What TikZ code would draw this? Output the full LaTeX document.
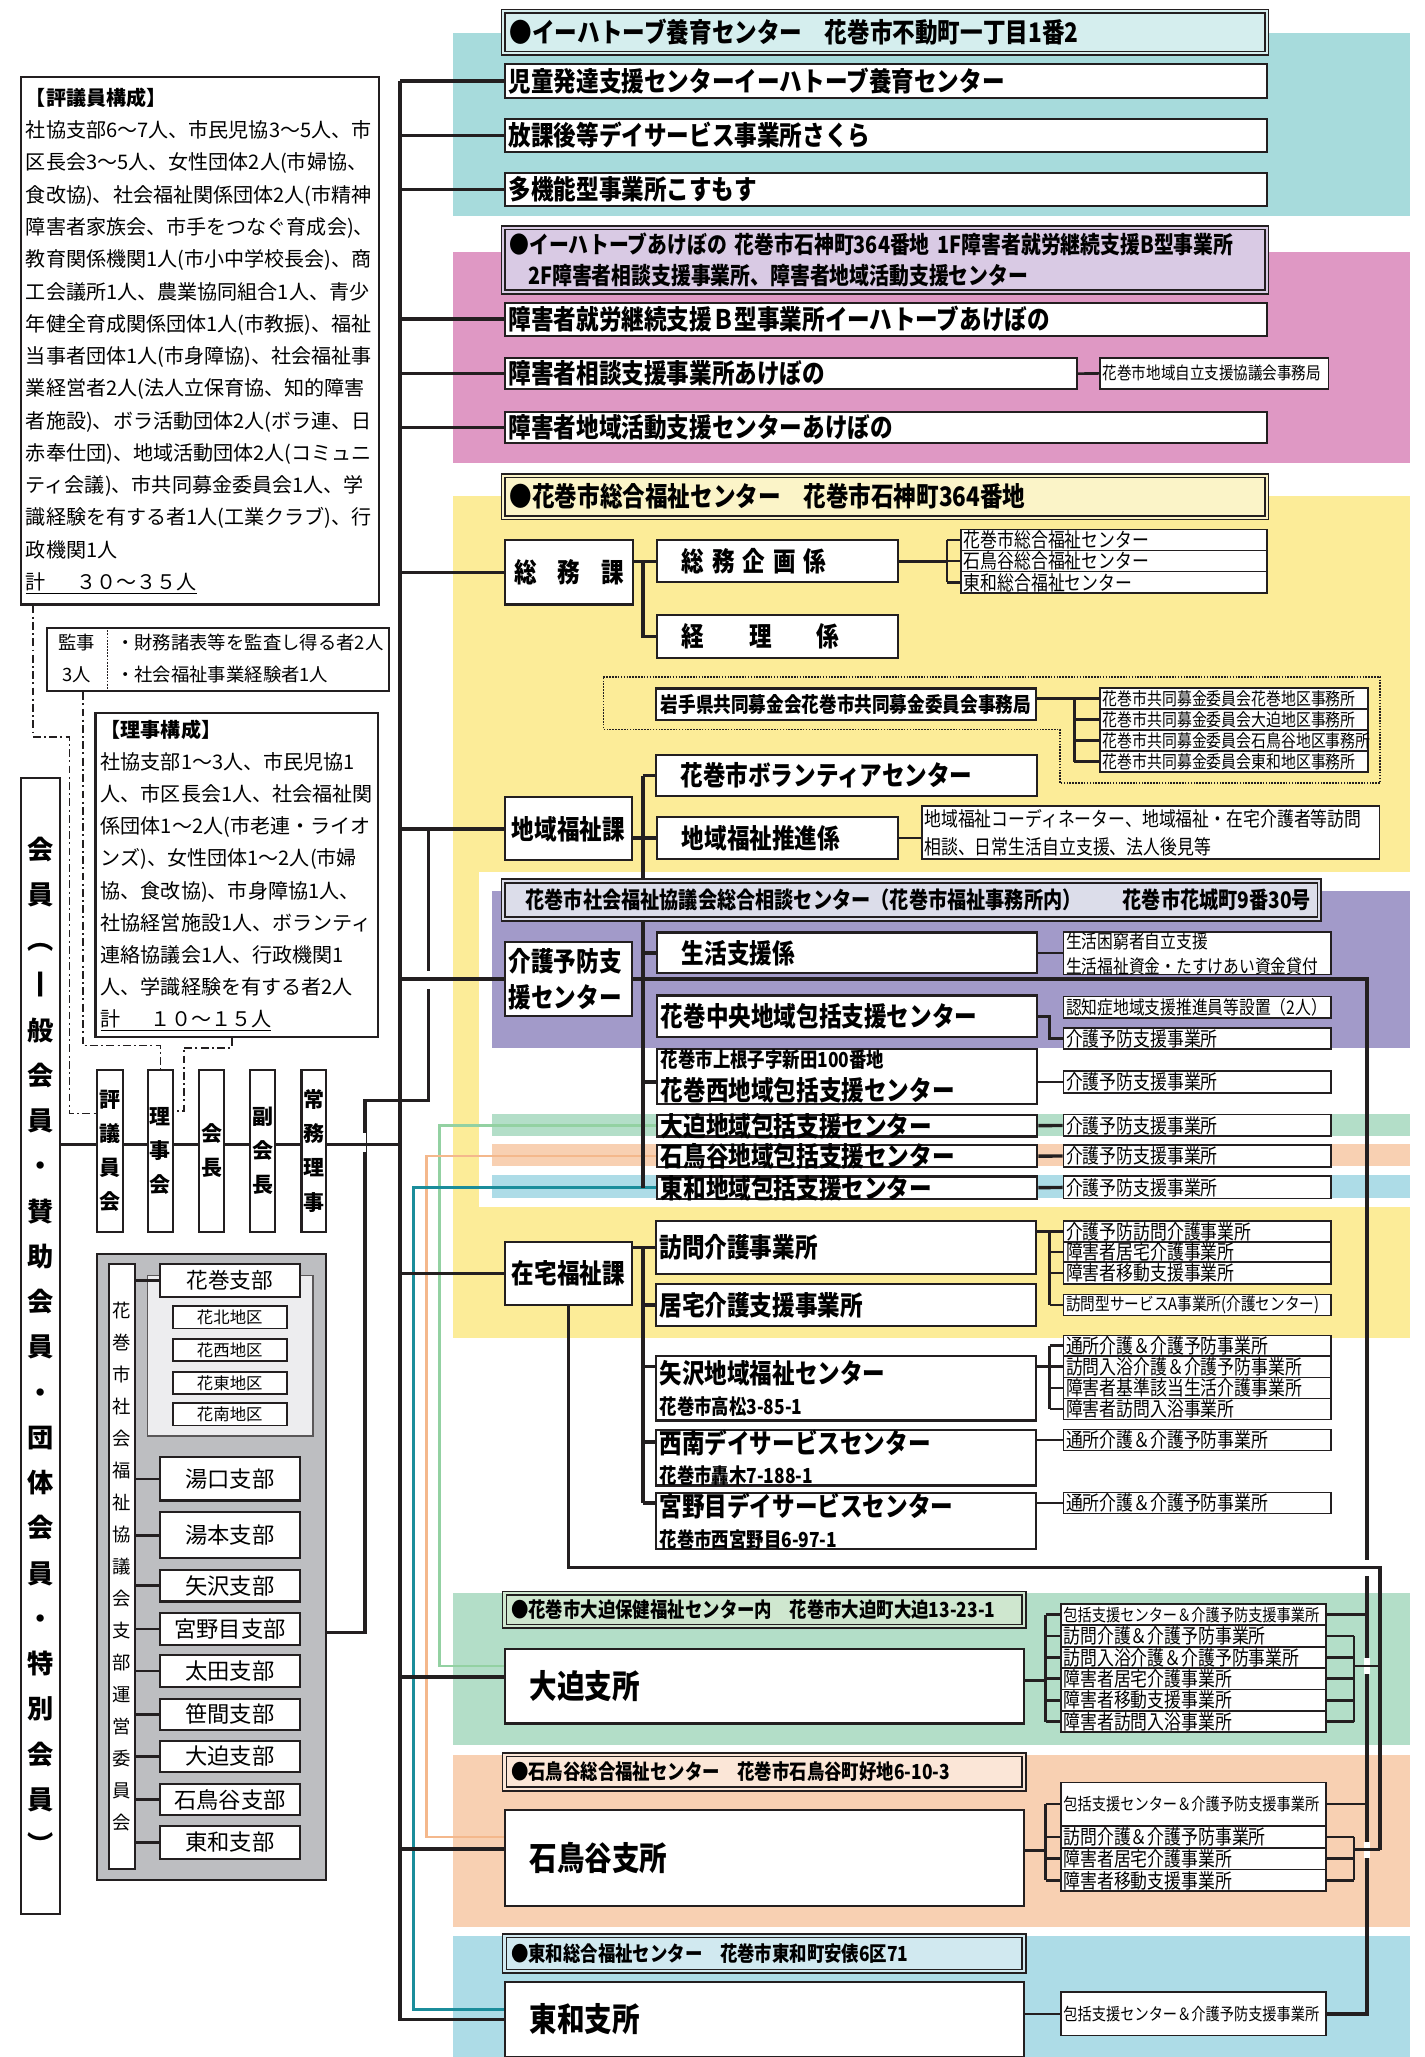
\documentclass[tikz,border=0pt]{standalone}
\usepackage{fontspec}
\setmainfont{Noto Sans CJK JP}
\newfontfamily\cond{Noto Sans CJK JP}[FakeStretch=0.84]

\definecolor{ink}{HTML}{231F20}
\definecolor{bandTeal}{HTML}{A7DBDC}
\definecolor{hdTeal}{HTML}{D5EEEE}
\definecolor{bandPink}{HTML}{DF98C4}
\definecolor{hdPink}{HTML}{D9CAE4}
\definecolor{bandYel}{HTML}{FCEC98}
\definecolor{hdYel}{HTML}{FBF4C8}
\definecolor{bandPur}{HTML}{A29AC9}
\definecolor{hdPur}{HTML}{DCDDEA}
\definecolor{bandGrn}{HTML}{B3DEC8}
\definecolor{hdGrn}{HTML}{CFE7CF}
\definecolor{bandOra}{HTML}{F8D0B2}
\definecolor{hdOra}{HTML}{FBE6D7}
\definecolor{bandBlu}{HTML}{ADDCE7}
\definecolor{hdBlu}{HTML}{D1E9F0}
\definecolor{lnGrn}{HTML}{93D1A2}
\definecolor{lnOra}{HTML}{F4B88C}
\definecolor{lnTea}{HTML}{1B8D9B}
\definecolor{shibuGray}{HTML}{BDBEC1}
\definecolor{shibuLight}{HTML}{EDEDEF}

\newcommand\fsz[1]{\fontsize{#1}{#1}\selectfont}
\newcommand\fH{\cond\bfseries\fsz{20.5}}
\newcommand\fS{\cond\fsz{15.3}}
\newcommand\fA{\cond\bfseries\fsz{15.8}}

\tikzset{
  box/.style={draw=ink, line width=1.6pt, fill=white, inner sep=0pt, anchor=north west},
  lbox/.style={box, align=left, inner xsep=3pt, font=\fH},
  widebox/.style={lbox, minimum width=581pt, text width=575pt},
  midbox/.style={lbox, minimum width=290pt, text width=284pt},
  sect/.style={box, minimum width=97pt, minimum height=48pt, font=\fH},
  sbox/.style={box, line width=1.3pt, align=left, inner xsep=2pt, font=\fS, minimum width=204pt, text width=200pt},
  hdr/.style={draw=ink, line width=1.2pt, double distance=1.6pt, anchor=north west, inner xsep=5pt, inner ysep=0pt, align=left},
  vbox/.style={box, align=center, minimum width=20pt, minimum height=123pt, font=\bfseries\fontsize{16}{26}\selectfont},
  shibubox/.style={box, minimum width=107pt, font=\fsz{17}},
  chiku/.style={box, line width=1.3pt, minimum width=87pt, minimum height=17pt, font=\fsz{12.5}},
  conn/.style={draw=ink, line width=2.6pt},
  link/.style={draw=ink, line width=2pt},
  dd/.style={draw=ink, line width=1.3pt, dash pattern=on 6pt off 2.5pt on 1.5pt off 2.5pt},
  gap/.style={draw=white, line width=5pt}
}

\begin{document}
\begin{tikzpicture}[x=1pt,y=-1pt]
\useasboundingbox (0,0) rectangle (1086,1568);

% colour bands
\fill[bandTeal] (345,25) rectangle (1075,165);
\fill[bandPink] (345,192) rectangle (1075,353);
\fill[bandYel] (345,378) rectangle (1075,1020);
\fill[white] (365,665) rectangle (1075,920);
\fill[bandPur] (375,679) rectangle (1075,799);
\fill[bandGrn] (375,849) rectangle (1075,866);
\fill[bandOra] (375,872) rectangle (1075,889);
\fill[bandBlu] (375,896) rectangle (1075,913);
\fill[bandGrn] (345,1214) rectangle (1075,1330);
\fill[bandOra] (345,1338) rectangle (1075,1469);
\fill[bandBlu] (345,1476) rectangle (1075,1568);
\draw[ink, line width=1.2pt, densely dotted] (460,516) -- (1052,516) -- (1052,597) -- (808,597) -- (808,556) -- (460,556) -- cycle;

% ---- left: members and board
\node[box, align=left, inner xsep=4pt, text width=265pt, minimum width=273pt, minimum height=402pt, font=\fontsize{15.3}{24.6}\selectfont] (hyogi) at (15,58) {{\bfseries 【評議員構成】}\\社協支部6～7人、市民児協3～5人、市\\区長会3～5人、女性団体2人(市婦協、\\食改協)、社会福祉関係団体2人(市精神\\障害者家族会、市手をつなぐ育成会)、\\教育関係機関1人(市小中学校長会)、商\\工会議所1人、農業協同組合1人、青少\\年健全育成関係団体1人(市教振)、福祉\\当事者団体1人(市身障協)、社会福祉事\\業経営者2人(法人立保育協、知的障害\\者施設)、ボラ活動団体2人(ボラ連、日\\赤奉仕団)、地域活動団体2人(コミュニ\\ティ会議)、市共同募金委員会1人、学\\識経験を有する者1人(工業クラブ)、行\\政機関1人\\\underline{計\hspace{1.5em}３０～３５人}};
\node[box, minimum width=261pt, minimum height=48pt] (kanji) at (35,478) {};
\node[align=center, font=\fontsize{14}{24}\selectfont] (kanjiL) at (58.5,502) {監事\\3人};
\node[align=left, anchor=west, font=\fontsize{14}{24}\selectfont] (kanjiR) at (85,502) {・財務諸表等を監査し得る者2人\\・社会福祉事業経験者1人};
\draw[ink, line width=1.4pt, densely dotted] ([xshift=47pt]kanji.north west) -- ([xshift=47pt]kanji.south west);
\node[box, align=left, inner xsep=4pt, text width=207pt, minimum width=215pt, minimum height=247pt, font=\fontsize{15.3}{24.5}\selectfont] (riji) at (72,543) {{\bfseries 【理事構成】}\\社協支部1～3人、市民児協1\\人、市区長会1人、社会福祉関\\係団体1～2人(市老連・ライオ\\ンズ)、女性団体1～2人(市婦\\協、食改協)、市身障協1人、\\社協経営施設1人、ボランティ\\連絡協議会1人、行政機関1\\人、学識経験を有する者2人\\\underline{計\hspace{1.5em}１０～１５人}};

\node[box, align=center, minimum width=30pt, minimum height=866pt, font=\bfseries\fontsize{20}{34.5}\selectfont] (kaiin) at (15,592) {会\\員\\︵\\丨\\般\\会\\員\\・\\賛\\助\\会\\員\\・\\団\\体\\会\\員\\・\\特\\別\\会\\員\\︶};
\node[vbox] (hyo) at (73,815) {評\\議\\員\\会};
\node[vbox, minimum width=19pt] (rijikai) at (112,815) {理\\事\\会};
\node[vbox, minimum width=19pt] (kaicho) at (151,815) {会\\長};
\node[vbox, minimum width=19pt] (fukukai) at (190,815) {副\\会\\長};
\node[vbox, minimum width=19pt] (jomu) at (229,815) {常\\務\\理\\事};

% ---- left: branches
\node[box, fill=shibuGray, minimum width=175pt, minimum height=477pt] (shibu) at (73,955) {};
\node[box, fill=shibuLight, draw=ink!75, line width=1pt, minimum width=126pt, minimum height=122pt] (hanaG) at (112,972) {};
\node[box, align=center, minimum width=20pt, minimum height=461pt, font=\fontsize{14}{24.4}\selectfont] (label) at (82,963) {花\\巻\\市\\社\\会\\福\\祉\\協\\議\\会\\支\\部\\運\\営\\委\\員\\会};
\node[shibubox, minimum height=25pt, font=\fsz{16.5}] (hanamaki) at (121,963) {花巻支部};
\node[chiku] (kahoku) at (131,995) {花北地区};
\node[chiku] (kasei) at (131,1020) {花西地区};
\node[chiku] (katou) at (131,1045) {花東地区};
\node[chiku] (kanan) at (131,1069) {花南地区};
\node[shibubox, minimum height=33pt] (yuguchi) at (121,1110) {湯口支部};
\node[shibubox, minimum height=35pt] (yumoto) at (121,1152) {湯本支部};
\node[shibubox, minimum height=24pt] (yazawaS) at (121,1196) {矢沢支部};
\node[shibubox, minimum height=24pt] (miyanomeS) at (121,1229) {宮野目支部};
\node[shibubox, minimum height=24pt] (ota) at (121,1261) {太田支部};
\node[shibubox, minimum height=24pt] (sasama) at (121,1294) {笹間支部};
\node[shibubox, minimum height=24pt] (oohasamaS) at (121,1326) {大迫支部};
\node[shibubox, minimum height=24pt] (ishidoriS) at (121,1359) {石鳥谷支部};
\node[shibubox, minimum height=25pt] (towaS) at (121,1391) {東和支部};

% ---- イーハトーブ養育センター
\node[hdr, fill=hdTeal, double=hdTeal, minimum width=582pt, minimum height=32pt, text width=572pt, font=\fH] (yoiku) at (383,8) {●イーハトーブ養育センター　花巻市不動町一丁目1番2};
\node[widebox, minimum height=26pt] (jido) at (384,48) {児童発達支援センターイーハトーブ養育センター};
\node[widebox, minimum height=25pt] (sakura) at (384,90) {放課後等デイサービス事業所さくら};
\node[widebox, minimum height=25pt] (kosumosu) at (384,131) {多機能型事業所こすもす};

% ---- イーハトーブあけぼの
\node[hdr, fill=hdPink, double=hdPink, minimum width=582pt, minimum height=49pt, text width=572pt, font=\cond\bfseries\fontsize{18}{23}\selectfont] (akebono) at (383,173) {●イーハトーブあけぼの 花巻市石神町364番地 1F障害者就労継続支援B型事業所\\\hspace*{14pt}2F障害者相談支援事業所、障害者地域活動支援センター};
\node[widebox, minimum height=25pt] (shuro) at (384,230) {障害者就労継続支援Ｂ型事業所イーハトーブあけぼの};
\node[lbox, minimum width=436pt, text width=430pt, minimum height=24pt] (sodan) at (384,272) {障害者相談支援事業所あけぼの};
\node[sbox, minimum width=174pt, text width=170pt, minimum height=24pt, font=\cond\fsz{13.2}] (jiritsu) at (838,272) {花巻市地域自立支援協議会事務局};
\node[widebox, minimum height=24pt] (katsudo) at (384,313) {障害者地域活動支援センターあけぼの};

% ---- 総合福祉センター
\node[hdr, fill=hdYel, double=hdYel, minimum width=582pt, minimum height=32pt, text width=572pt, font=\fH] (sogo) at (383,362) {●花巻市総合福祉センター　花巻市石神町364番地};
\node[box, minimum width=98pt, minimum height=49pt, font=\fH] (somu) at (384,411) {総\hspace{16pt}務\hspace{16pt}課};
\node[lbox, minimum width=184pt, text width=178pt, minimum height=32pt] (kikaku) at (500,411) {\hspace*{16pt}総\hspace{6pt}務\hspace{6pt}企\hspace{6pt}画\hspace{6pt}係};
\node[lbox, minimum width=184pt, text width=178pt, minimum height=33pt] (keiri) at (500,468) {\hspace*{16pt}経\hspace{34pt}理\hspace{34pt}係};
\node[sbox, minimum width=233pt, text width=229pt, minimum height=16pt] (fukuA) at (732,403) {花巻市総合福祉センター};
\node[sbox, minimum width=233pt, text width=229pt, minimum height=16pt] (fukuB) at (732,419) {石鳥谷総合福祉センター};
\node[sbox, minimum width=233pt, text width=229pt, minimum height=16.6pt] (fukuC) at (732,435) {東和総合福祉センター};
\node[box, minimum width=290pt, minimum height=24pt, font=\cond\bfseries\fsz{16}] (jimu) at (499,524) {岩手県共同募金会花巻市共同募金委員会事務局};
\node[sbox, minimum height=16pt, font=\cond\fsz{13.5}] (kyodoA) at (838,524) {花巻市共同募金委員会花巻地区事務所};
\node[sbox, minimum height=16pt, font=\cond\fsz{13.5}] (kyodoB) at (838,540) {花巻市共同募金委員会大迫地区事務所};
\node[sbox, minimum height=16pt, font=\cond\fsz{13.5}] (kyodoC) at (838,556) {花巻市共同募金委員会石鳥谷地区事務所};
\node[sbox, minimum height=16pt, font=\cond\fsz{13.5}] (kyodoD) at (838,572) {花巻市共同募金委員会東和地区事務所};
\node[lbox, minimum width=291pt, text width=285pt, minimum height=31pt] (volun) at (499,575) {\hspace*{16pt}花巻市ボランティアセンター};
\node[sect] (chiiki) at (384,607) {地域福祉課};
\node[lbox, minimum width=184pt, text width=178pt, minimum height=32pt] (suishin) at (500,622) {\hspace*{16pt}地域福祉推進係};
\node[sbox, minimum width=349pt, text width=345pt, minimum height=40pt, font=\cond\fontsize{15.3}{21}\selectfont] (suishinD) at (702,614) {地域福祉コーディネーター、地域福祉・在宅介護者等訪問\\相談、日常生活自立支援、法人後見等};

% ---- 総合相談センター
\node[hdr, fill=hdPur, double=hdPur, minimum width=622pt, minimum height=29pt, text width=612pt, font=\cond\bfseries\fsz{17.4}] (sodanC) at (383,671) {\hspace*{12pt}花巻市社会福祉協議会総合相談センター（花巻市福祉事務所内）\hspace{1.8em}花巻市花城町9番30号};
\node[lbox, minimum width=97pt, text width=91pt, minimum height=57pt, font=\cond\bfseries\fontsize{20.5}{27}\selectfont] (yobou) at (384,717) {介護予防支\\援センター};
\node[midbox, minimum height=31pt] (seikatsu) at (500,710) {\hspace*{16pt}生活支援係};
\node[sbox, minimum height=31pt, font=\cond\fontsize{14.3}{19}\selectfont] (seikatsuD) at (810,710) {生活困窮者自立支援\\生活福祉資金・たすけあい資金貸付};
\node[midbox, minimum height=32pt] (chuo) at (500,758) {花巻中央地域包括支援センター};
\node[sbox, minimum height=16.5pt, font=\cond\fsz{14.3}] (ninchi) at (810,759) {認知症地域支援推進員等設置（2人）};
\node[sbox, minimum height=16pt] (chuoY) at (810,783) {介護予防支援事業所};
\node[midbox, minimum height=42pt, font=\cond\bfseries\fontsize{20.5}{25}\selectfont] (nishi) at (500,799) {{\fA 花巻市上根子字新田100番地}\\花巻西地域包括支援センター};
\node[sbox, minimum height=16.5pt] (nishiY) at (810,816) {介護予防支援事業所};
\node[midbox, minimum height=16.5pt, text height=16pt, text depth=0pt] (oohasamaH) at (500,849) {大迫地域包括支援センター};
\node[sbox, minimum height=16.5pt] (oohasamaY) at (810,849) {介護予防支援事業所};
\node[midbox, minimum height=17pt, text height=16pt, text depth=0pt] (ishidoriH) at (500,872) {石鳥谷地域包括支援センター};
\node[sbox, minimum height=17pt] (ishidoriY) at (810,872) {介護予防支援事業所};
\node[midbox, minimum height=17pt, text height=16pt, text depth=0pt] (towaH) at (500,896) {東和地域包括支援センター};
\node[sbox, minimum height=17pt] (towaY) at (810,896) {介護予防支援事業所};

% ---- 在宅福祉課
\node[sect] (zaitaku) at (384,946) {在宅福祉課};
\node[midbox, minimum height=40pt] (houmon) at (499,930) {訪問介護事業所};
\node[midbox, minimum height=32pt] (kyotaku) at (499,978) {居宅介護支援事業所};
\node[sbox, minimum height=16pt] (hmA) at (810,930) {介護予防訪問介護事業所};
\node[sbox, minimum height=15.5pt] (hmB) at (810,946) {障害者居宅介護事業所};
\node[sbox, minimum height=16.5pt] (hmC) at (810,961.5) {障害者移動支援事業所};
\node[sbox, minimum height=16pt, font=\cond\fsz{13.3}] (hmD) at (810,986) {訪問型サービスA事業所(介護センター)};
\node[midbox, minimum height=49pt, font=\cond\bfseries\fontsize{20.5}{23}\selectfont] (yazawa) at (499,1033) {矢沢地域福祉センター\\{\fA 花巻市高松3-85-1}};
\node[sbox, minimum height=15.5pt] (yaA) at (810,1017.3) {通所介護＆介護予防事業所};
\node[sbox, minimum height=16.5pt] (yaB) at (810,1032.8) {訪問入浴介護＆介護予防事業所};
\node[sbox, minimum height=16pt] (yaC) at (810,1049.3) {障害者基準該当生活介護事業所};
\node[sbox, minimum height=16pt] (yaD) at (810,1065.3) {障害者訪問入浴事業所};
\node[midbox, minimum height=40pt, font=\cond\bfseries\fontsize{20.5}{23}\selectfont] (seinan) at (499,1089) {西南デイサービスセンター\\{\fA 花巻市轟木7-188-1}};
\node[sbox, minimum height=16pt] (seinanY) at (810,1089) {通所介護＆介護予防事業所};
\node[midbox, minimum height=43pt, font=\cond\bfseries\fontsize{20.5}{23.5}\selectfont] (miyanome) at (499,1137) {宮野目デイサービスセンター\\{\fA 花巻市西宮野目6-97-1}};
\node[sbox, minimum height=16pt] (miyanomeY) at (810,1137) {通所介護＆介護予防事業所};

% ---- 支所
\node[hdr, fill=hdGrn, double=hdGrn, minimum width=396pt, minimum height=25pt, text width=386pt, font=\fA] (ooH) at (384,1214) {●花巻市大迫保健福祉センター内　花巻市大迫町大迫13-23-1};
\node[lbox, minimum width=396pt, text width=390pt, minimum height=57pt, font=\cond\bfseries\fsz{25}] (oosho) at (384,1256) {\hspace*{16pt}大迫支所};
\node[sbox, minimum width=202pt, text width=198pt, minimum height=16.3pt, font=\cond\fsz{12.9}] (ooA) at (808,1222) {包括支援センター＆介護予防支援事業所};
\node[sbox, minimum width=202pt, text width=198pt, minimum height=16.3pt] (ooB) at (808,1238.3) {訪問介護＆介護予防事業所};
\node[sbox, minimum width=202pt, text width=198pt, minimum height=16.3pt] (ooC) at (808,1254.6) {訪問入浴介護＆介護予防事業所};
\node[sbox, minimum width=202pt, text width=198pt, minimum height=16.3pt] (ooD) at (808,1270.9) {障害者居宅介護事業所};
\node[sbox, minimum width=202pt, text width=198pt, minimum height=16.3pt] (ooE) at (808,1287.2) {障害者移動支援事業所};
\node[sbox, minimum width=202pt, text width=198pt, minimum height=16.3pt] (ooF) at (808,1303.5) {障害者訪問入浴事業所};

\node[hdr, fill=hdOra, double=hdOra, minimum width=396pt, minimum height=26pt, text width=386pt, font=\fA] (isH) at (384,1337) {●石鳥谷総合福祉センター　花巻市石鳥谷町好地6-10-3};
\node[lbox, minimum width=396pt, text width=390pt, minimum height=73pt, font=\cond\bfseries\fsz{25}] (issho) at (384,1379) {\hspace*{16pt}石鳥谷支所};
\node[sbox, minimum width=202pt, text width=198pt, minimum height=33pt, font=\cond\fsz{12.9}] (isA) at (808,1358) {包括支援センター＆介護予防支援事業所};
\node[sbox, minimum width=202pt, text width=198pt, minimum height=17pt] (isB) at (808,1391) {訪問介護＆介護予防事業所};
\node[sbox, minimum width=202pt, text width=198pt, minimum height=16.5pt] (isC) at (808,1408) {障害者居宅介護事業所};
\node[sbox, minimum width=202pt, text width=198pt, minimum height=16.5pt] (isD) at (808,1424.5) {障害者移動支援事業所};

\node[hdr, fill=hdBlu, double=hdBlu, minimum width=396pt, minimum height=27pt, text width=386pt, font=\fA] (twH) at (384,1475) {●東和総合福祉センター　花巻市東和町安俵6区71};
\node[lbox, minimum width=396pt, text width=390pt, minimum height=57pt, font=\cond\bfseries\fsz{25}] (twsho) at (384,1510) {\hspace*{16pt}東和支所};
\node[sbox, minimum width=202pt, text width=198pt, minimum height=33pt, font=\cond\fsz{12.9}] (twA) at (808,1518) {包括支援センター＆介護予防支援事業所};

% ---- named guide points
\coordinate (tk) at (305,0);
\coordinate (sx) at (490,0);
\coordinate (fb) at (722,0);
\coordinate (kb) at (819,0);
\coordinate (hb) at (800,0);
\coordinate (lb) at (797,0);
\coordinate (ob) at (1032,0);
\coordinate (rb) at (1042,0);
\coordinate (gx) at (335,0);
\coordinate (px) at (325,0);
\coordinate (tx) at (315,0);
\coordinate (zt) at (1052,1195);
\coordinate (ooJ) at (1052,1270);
\coordinate (isJ) at (1052,1410);

% coloured feeds to the branch offices
\draw[lnGrn, line width=2pt] (oohasamaH.west) -- (oohasamaH.west -| gx) |- ([yshift=15.5pt]oosho.west);
\draw[lnOra, line width=2pt] (ishidoriH.west) -- (ishidoriH.west -| px) |- ([yshift=16pt]issho.west);
\draw[lnTea, line width=2pt] (towaH.west) -- (towaH.west -| tx) |- ([yshift=7.5pt]twsho.west);

% branch committees to 地域福祉課
\draw[conn] ([yshift=-50pt]shibu.east) -- ++(28.5,0) -- ++(0,-405.5) -- ++(48.5,0) |- (chiiki.west);
\draw[gap] (276.5,864) -- ++(0,14);
\draw[gap] (325,740) -- ++(0,14);

% trunk
\draw[conn] (jido.west -| tk) |- (twsho.west);
\foreach \n in {jido,sakura,kosumosu,shuro,sodan,katsudo,somu,chiiki,yobou,zaitaku}
  \draw[conn] (\n.west -| tk) -- (\n.west);
\draw[conn] ([yshift=7pt]oosho.west -| tk) -- ([yshift=7pt]oosho.west);
\draw[conn] ([yshift=7pt]issho.west -| tk) -- ([yshift=7pt]issho.west);

% members line
\draw[conn] ([yshift=5pt]hyo.west -| kaiin.east) -- ([yshift=5pt]hyo.west);
\foreach \a/\b in {hyo/rijikai,rijikai/kaicho,kaicho/fukukai,fukukai/jomu}
  \draw[conn] ([yshift=5pt]\a.east) -- ([yshift=5pt]\b.west);
\draw[conn] ([yshift=5pt]jomu.east) -- ([yshift=5pt]jomu.east -| tk);

% audit links
\draw[dd] ([xshift=10pt]hyogi.south west) -- ++(0,100) -- ++(28,0) |- ([yshift=28.5pt]hyo.west);
\draw[dd] ([xshift=28pt]kanji.south west) |- ([yshift=18pt]rijikai.north) -- (rijikai.north);
\draw[dd] ([xshift=105pt]riji.south west) -- ++(0,7) -- ++(-37,0) |- ([yshift=30.5pt]rijikai.east);

% branch boxes
\foreach \n in {hanamaki,yuguchi,yumoto,yazawaS,miyanomeS,ota,sasama,oohasamaS,ishidoriS,towaS}
  \draw[link] (\n.west -| label.east) -- (\n.west);

% あけぼの
\draw[link] (sodan.east) -- (jiritsu.west);

% 総務課
\draw[conn] (kikaku.west -| somu.east) -- (kikaku.west);
\draw[conn] (kikaku.west -| sx) |- (keiri.west);
\draw[link] (kikaku.east) -- (kikaku.east -| fb);
\draw[link] (fukuA.west -| fb) -- (fukuC.west -| fb);
\foreach \n in {fukuA,fukuB,fukuC}
  \draw[link] (\n.west -| fb) -- (\n.west);
\draw[link] (kyodoA.west -| jimu.east) -- (kyodoA.west -| kb);
\draw[link] (kyodoA.west -| kb) -- (kyodoD.west -| kb);
\foreach \n in {kyodoA,kyodoB,kyodoC,kyodoD}
  \draw[link] (\n.west -| kb) -- (\n.west);

% 地域福祉課 (the line passes behind the 相談センター header)
\draw[conn] (volun.west -| sx) -- (sodanC.north -| sx);
\draw[conn] (sodanC.south -| sx) -- (towaH.west -| sx);
\draw[conn] (volun.west -| sx) -- (volun.west);
\draw[conn] (suishin.west -| chiiki.east) -- (suishin.west);
\draw[conn] (seikatsu.west -| sx) -- (seikatsu.west);
\draw[conn] (nishiY.west -| sx) -- (nishiY.west -| nishi.west);
\draw[link] (suishin.east) -- (suishin.east -| suishinD.west);

% 介護予防支援センター
\draw[conn] (yobou.east) -- (yobou.east -| rb) |- (twA.east);
\draw[link] (seikatsu.east) -- (seikatsu.east -| seikatsuD.west);
\draw[link] (chuo.east) -- (chuo.east -| hb) |- (chuoY.west);
\draw[link] (nishiY.west -| nishi.east) -- (nishiY.west);
\draw[conn] (oohasamaH.east) -- (oohasamaY.west);
\draw[conn] (ishidoriH.east) -- (ishidoriY.west);
\draw[conn] (towaH.east) -- (towaY.west);

% 在宅福祉課
\draw[conn] (houmon.west -| zaitaku.east) -- (houmon.west);
\draw[conn] (houmon.west -| sx) -- ([yshift=13.5pt]miyanome.west -| sx);
\draw[conn] (kyotaku.west -| sx) -- (kyotaku.west);
\draw[conn] ([yshift=16.5pt]yazawa.west -| sx) -- ([yshift=16.5pt]yazawa.west);
\draw[conn] ([yshift=12pt]seinan.west -| sx) -- ([yshift=12pt]seinan.west);
\draw[conn] ([yshift=13.5pt]miyanome.west -| sx) -- ([yshift=13.5pt]miyanome.west);
\draw[link] (hmA.west -| houmon.east) -- (hmA.west);
\draw[link] (hmA.west -| hb) -- (hmD.west -| hb);
\foreach \n in {hmB,hmC,hmD}
  \draw[link] (\n.west -| hb) -- (\n.west);
\draw[link] (yaB.west -| yazawa.east) -- (yaB.west);
\draw[link] (yaA.west -| hb) -- (yaD.west -| hb);
\foreach \n in {yaA,yaC,yaD}
  \draw[link] (\n.west -| hb) -- (\n.west);
\draw[link] (seinanY.west -| seinan.east) -- (seinanY.west);
\draw[link] (miyanomeY.west -| miyanome.east) -- (miyanomeY.west);

% 支所 services
\draw[link] ([yshift=4.5pt]oosho.east) -- ([yshift=4.5pt]oosho.east -| lb);
\draw[link] (ooA.west -| lb) -- (ooF.west -| lb);
\foreach \n in {ooA,ooB,ooC,ooD,ooE,ooF}
  \draw[link] (\n.west -| lb) -- (\n.west);
\draw[link] (ooA.east) -- (ooA.east -| rb);
\draw[link] (ooB.east -| ob) -- (ooF.east -| ob);
\foreach \n in {ooB,ooC,ooD,ooE,ooF}
  \draw[link] (\n.east) -- (\n.east -| ob);
\draw[link] ([yshift=5.5pt]issho.east) -- ([yshift=5.5pt]issho.east -| lb);
\draw[link] (isA.west -| lb) -- (isD.west -| lb);
\foreach \n in {isA,isB,isC,isD}
  \draw[link] (\n.west -| lb) -- (\n.west);
\draw[link] (isA.east) -- (isA.east -| rb);
\draw[link] (isB.east -| ob) -- (isD.east -| ob);
\foreach \n in {isB,isC,isD}
  \draw[link] (\n.east) -- (\n.east -| ob);
\draw[link] (twA.west -| twsho.east) -- (twA.west);

% 在宅 line over the 包括 line
\draw[gap] (1042,1189) -- ++(0,12);
\draw[gap] (1042,1264) -- ++(0,12);
\draw[gap] (1042,1404) -- ++(0,12);
\draw[conn] (zaitaku.south) |- (zt) -- (isJ);
\draw[link] (ooJ -| ob) -- (ooJ);
\draw[link] (isJ -| ob) -- (isJ);
\end{tikzpicture}
\end{document}
